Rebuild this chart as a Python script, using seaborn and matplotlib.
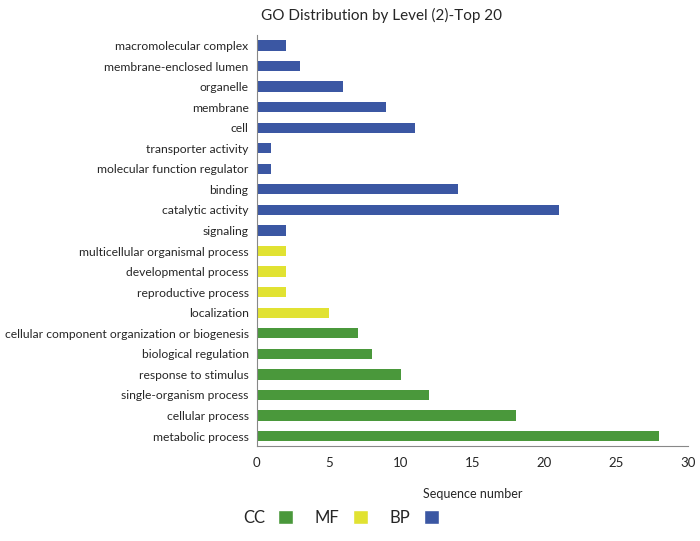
import numpy as np
import pandas as pd
import matplotlib
matplotlib.use("Agg")
import matplotlib.pyplot as plt
import seaborn as sns
from matplotlib.patches import Patch

# categories from top to bottom
terms = ["macromolecular complex", "membrane-enclosed lumen", "organelle", "membrane", "cell",
         "transporter activity", "molecular function regulator", "binding", "catalytic activity",
         "signaling", "multicellular organismal process", "developmental process",
         "reproductive process", "localization",
         "cellular component organization or biogenesis", "biological regulation",
         "response to stimulus", "single-organism process", "cellular process", "metabolic process"]
counts = [2, 3, 6, 9, 11, 1, 1, 14, 21, 2, 2, 2, 2, 5, 7, 8, 10, 12, 18, 28]
groups = ["BP"] * 10 + ["MF"] * 4 + ["CC"] * 6

legend_order = ["CC", "MF", "BP"]
palette = {"CC": "#4a983b", "MF": "#e1e232", "BP": "#3b57a3"}

df = pd.DataFrame({"term": terms, "count": counts, "group": groups})

sns.set_style("white")
plt.rcParams["font.family"] = ["Lato", "DejaVu Sans"]

fig = plt.figure(figsize=(7.0, 5.41), dpi=100)
ax = fig.add_axes([0.367, 0.175, 0.616, 0.76])

sns.barplot(data=df, x="count", y="term", hue="group", palette=palette,
            dodge=False, width=0.5, order=terms, hue_order=legend_order,
            legend=False, ax=ax, edgecolor="none", saturation=1)

ax.set_xlim(0, 30)
ax.set_xticks(range(0, 31, 5))
ax.set_ylim(len(terms) - 0.5, -0.5)
ax.set_yticks(np.arange(len(terms)))
ax.set_yticklabels(terms, fontsize=8.7)
ax.set_yticks(np.arange(-0.5, len(terms), 1), minor=True)
ax.tick_params(axis="y", which="major", length=0, pad=6)
ax.tick_params(axis="y", which="minor", length=4, color="#888888", direction="out")
ax.tick_params(axis="x", length=4, color="#888888", direction="out", labelsize=9.5)
ax.set_xlabel("Sequence number", fontsize=9, labelpad=14)
ax.set_ylabel("")
for s in ["top", "right"]:
    ax.spines[s].set_visible(False)
for s in ["left", "bottom"]:
    ax.spines[s].set_color("#888888")

fig.suptitle("GO Distribution by Level (2)-Top 20", x=0.545, y=0.985, fontsize=11)

handles = [Patch(facecolor=palette[g], label=g) for g in legend_order]
fig.legend(handles=handles, loc="lower center", bbox_to_anchor=(0.487, 0.0),
           ncol=3, frameon=False, markerfirst=False, fontsize=12,
           handlelength=0.9, handleheight=0.9, columnspacing=1.3, handletextpad=0.8)

fig.savefig("out.png", dpi=100)
